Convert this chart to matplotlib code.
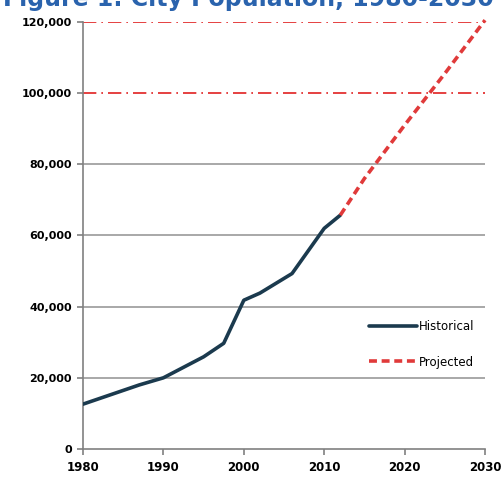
import matplotlib
matplotlib.use('Agg')
import matplotlib.pyplot as plt
from matplotlib.ticker import FuncFormatter

# Historical population
hist_years = [1980, 1987, 1990, 1995, 1997.5, 2000, 2002, 2006, 2010, 2012]
hist_pop = [12600, 18000, 20000, 25900, 29700, 41800, 43800, 49300, 62000, 65700]

# Projected population
proj_years = [2012, 2015, 2020, 2025, 2030]
proj_pop = [65700, 76000, 91000, 105500, 120500]

x_ticks = [1980, 1990, 2000, 2010, 2020, 2030]
y_ticks = [0, 20000, 40000, 60000, 80000, 100000, 120000]
red_grid = [100000, 120000]

fig = plt.figure(figsize=(5.01, 4.82), dpi=100)
ax = fig.add_axes([0.1657, 0.0685, 0.8024, 0.886])

# title is cut off at the top in the scanned original
fig.text(0.005, 0.9875, 'Figure 1: City Population, 1980-2030', color='#2a63ad',
         fontsize=17, fontweight='bold', va='baseline', ha='left')

for y in y_ticks[1:]:
    if y in red_grid:
        ax.axhline(y, color='#e02020', lw=1.2, ls=(0, (8, 3, 1, 3)), zorder=1)
    else:
        ax.axhline(y, color='#9a9a9a', lw=1.2, zorder=1)

ax.plot(hist_years, hist_pop, color='#1b3a4e', lw=2.6, label='Historical', zorder=3,
        solid_capstyle='round')
ax.plot(proj_years, proj_pop, color='#e03a3a', lw=2.6, ls=(0, (2.2, 1.3)), label='Projected',
        zorder=3, clip_on=False)

ax.set_xlim(1980, 2030)
ax.set_ylim(0, 120000)
ax.set_xticks(x_ticks)
ax.set_yticks(y_ticks)
ax.yaxis.set_major_formatter(FuncFormatter(lambda v, p: '{:,.0f}'.format(v)))

for s in ['top', 'right']:
    ax.spines[s].set_visible(False)
for s in ['left', 'bottom']:
    ax.spines[s].set_color('#808080')
    ax.spines[s].set_linewidth(1.2)

ax.tick_params(axis='both', colors='#808080', length=4, width=1.2)
ax.tick_params(axis='y', labelcolor='black', labelsize=8, pad=4)
ax.tick_params(axis='x', labelcolor='black', labelsize=8.5, pad=5)
for lab in ax.get_xticklabels() + ax.get_yticklabels():
    lab.set_fontweight('bold')

ax.legend(loc='center right', bbox_to_anchor=(1.0, 0.245), frameon=False, fontsize=8.5,
          handlelength=4.0, labelspacing=1.9, handletextpad=0.2)

fig.savefig('out.png', dpi=100)
